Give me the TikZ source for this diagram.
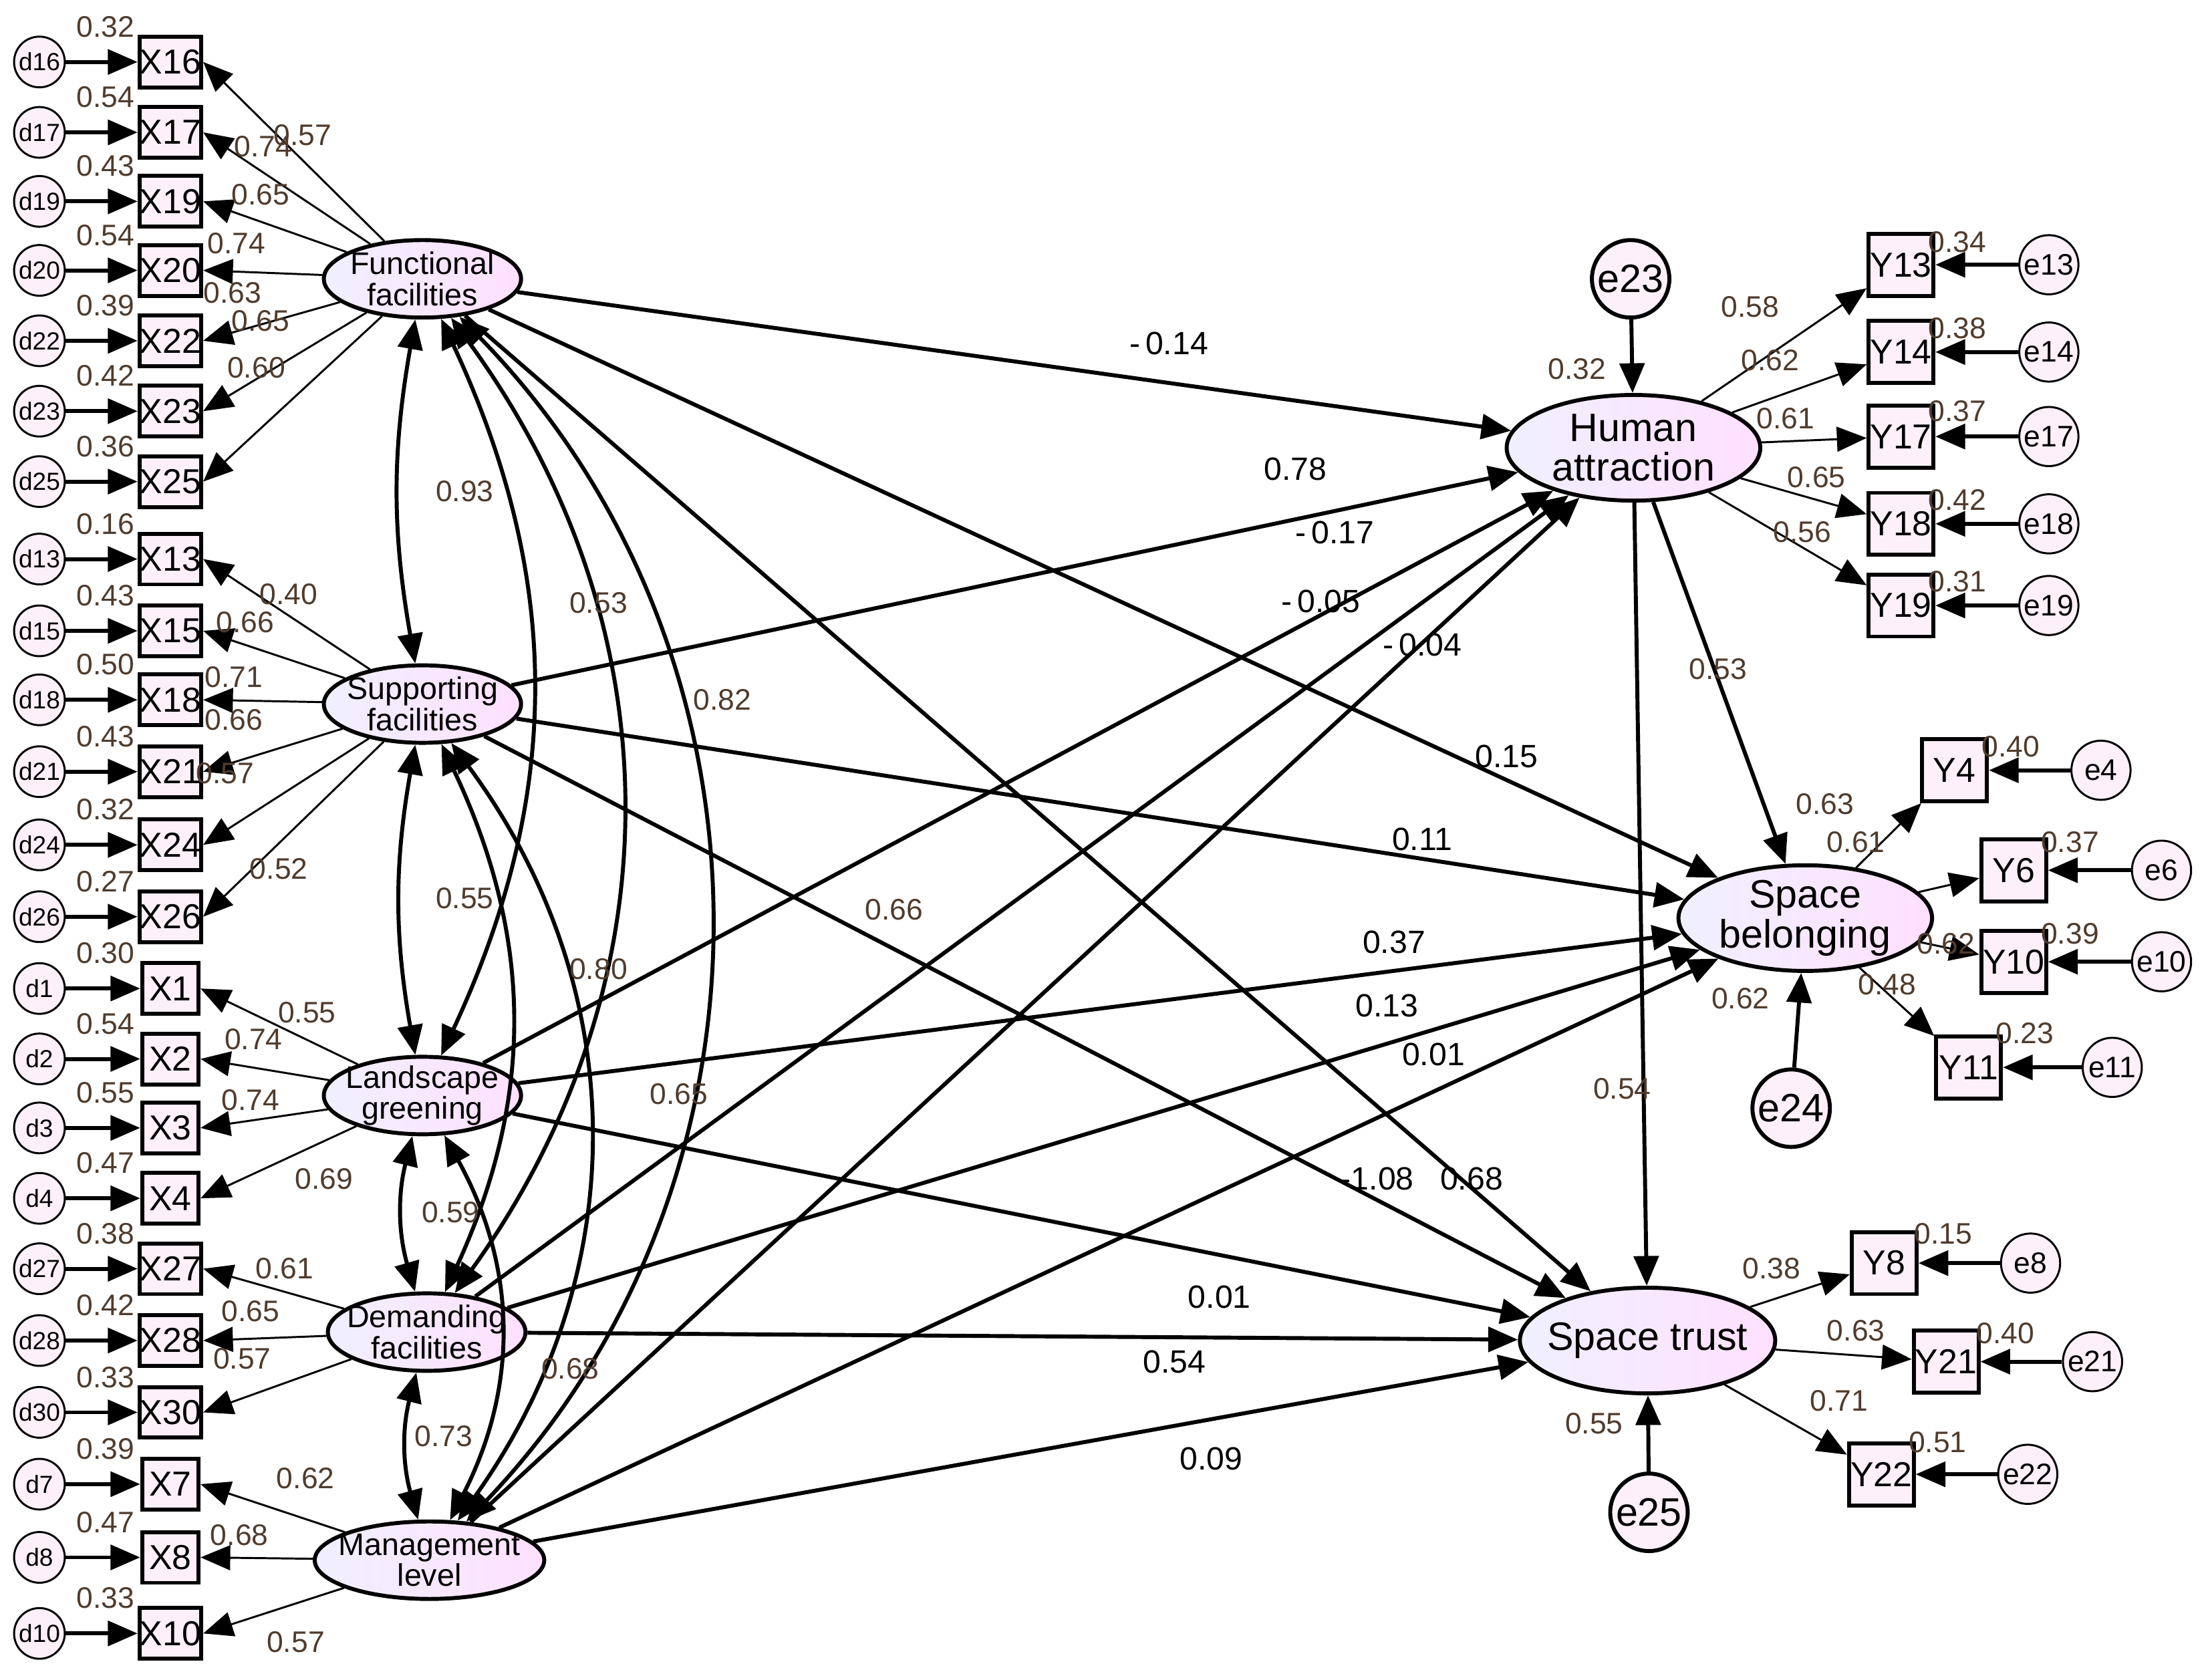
\documentclass[tikz,border=0pt]{standalone}
\usepackage{fontspec}
\setmainfont{Liberation Sans}
\usetikzlibrary{arrows.meta,shapes.geometric}
\definecolor{numc}{RGB}{80,60,45}
\tikzset{
  lat/.style={ellipse,draw,thick,left color=blue!6,right color=magenta!12,inner sep=-2pt,font=\fontsize{6.3}{6.3}\selectfont,align=center},
  obs/.style={rectangle,draw,thick,fill=magenta!6,minimum width=0.4cm,minimum height=0.36cm,inner sep=0pt,font=\fontsize{7}{7}\selectfont},
  err/.style={circle,draw,thin,fill=magenta!6,minimum size=0.36cm,inner sep=0pt,font=\fontsize{5}{5}\selectfont},
  bigerr/.style={circle,draw,thick,fill=magenta!6,minimum size=0.55cm,inner sep=0pt,font=\fontsize{8}{8}\selectfont},
  num/.style={text=numc,font=\fontsize{6}{6}\selectfont,inner sep=0pt},
  path/.style={->,thick},
  cov/.style={<->,thick},
  >={Triangle[length=6pt,width=5pt]}
}
\begin{document}
\begin{tikzpicture}[x=0.01cm,y=-0.01cm]
\useasboundingbox (0,0) rectangle (1568,1193);
% latent variables
\node[lat,minimum width=1.4cm,minimum height=0.55cm] (FF) at (300,198) {Functional\\facilities};
\node[lat,minimum width=1.4cm,minimum height=0.55cm] (SF) at (300,500) {Supporting\\facilities};
\node[lat,minimum width=1.4cm,minimum height=0.55cm] (LG) at (300,778) {Landscape\\greening};
\node[lat,minimum width=1.4cm,minimum height=0.55cm] (DF) at (303,946) {Demanding\\facilities};
\node[lat,minimum width=1.4cm,minimum height=0.55cm] (ML) at (305,1108) {Management\\level};
\node[lat,minimum width=1.8cm,minimum height=0.75cm,font=\fontsize{8}{8}\selectfont] (HA) at (1160,318) {Human\\attraction};
\node[lat,minimum width=1.8cm,minimum height=0.75cm,font=\fontsize{8}{8}\selectfont] (SB) at (1282,652) {Space\\belonging};
\node[lat,minimum width=1.8cm,minimum height=0.75cm,font=\fontsize{8}{8}\selectfont] (ST) at (1170,952) {Space trust};
\node[bigerr] (e23) at (1158,198) {e23};
\node[bigerr] (e24) at (1272,787) {e24};
\node[bigerr] (e25) at (1171,1074) {e25};
\draw[path] (e23) -- (HA);
\draw[path] (e24) -- (SB);
\draw[path] (e25) -- (ST);
\node[num] at (1120,262) {0.32};
\node[num] at (1236,709) {0.62};
\node[num] at (1132,1011) {0.55};
% left indicators
\foreach \n/\y/\v in {16/44/0.32,17/94/0.54,19/143/0.43,20/192/0.54,22/242/0.39,23/292/0.42,25/342/0.36,
  13/397/0.16,15/448/0.43,18/497/0.50,21/548/0.43,24/600/0.32,26/651/0.27,
  1/702/0.30,2/752/0.54,3/801/0.55,4/851/0.47,27/901/0.38,28/952/0.42,30/1003/0.33,
  7/1054/0.39,8/1106/0.47,10/1160/0.33}{
  \node[obs] (X\n) at (121,\y) {X\n};
  \node[err] (d\n) at (28,\y) {d\n};
  \draw[path] (d\n) -- (X\n);
  \node[num] at (75,\y-25) {\v};
}
% loadings
\foreach \f/\n/\l/\lx/\ly in {FF/16/0.57/215/96,FF/17/0.74/187/104,FF/19/0.65/185/138,FF/20/0.74/168/173,FF/22/0.63/165/208,FF/23/0.65/185/228,FF/25/0.60/182/261,
  SF/13/0.40/205/422,SF/15/0.66/174/442,SF/18/0.71/166/481,SF/21/0.66/166/511,SF/24/0.57/160/549,SF/26/0.52/198/617,
  LG/1/0.55/218/719,LG/2/0.74/180/738,LG/3/0.74/178/781,LG/4/0.69/230/837,
  DF/27/0.61/202/901,DF/28/0.65/178/931,DF/30/0.57/172/965,
  ML/7/0.62/217/1050,ML/8/0.68/170/1090,ML/10/0.57/210/1166}{
  \draw[path,thin] (\f) -- (X\n.east);
  \node[num] at (\lx,\ly) {\l};
}
% right indicators
\foreach \f/\n/\x/\y/\ex/\l/\lx/\ly/\v/\vx/\vy in {HA/13/1350/188/1455/0.58/1243/218/0.34/1390/172,
  HA/14/1350/250/1455/0.62/1257/256/0.38/1390/233,
  HA/17/1350/310/1455/0.61/1268/297/0.37/1390/292,
  HA/18/1350/372/1455/0.65/1290/339/0.42/1390/355,
  HA/19/1350/430/1455/0.56/1280/378/0.31/1390/413,
  SB/4/1388/547/1492/0.63/1296/571/0.40/1428/530,
  SB/6/1430/618/1535/0.61/1318/598/0.37/1470/598,
  SB/10/1430/683/1535/0.62/1382/670/0.39/1470/663,
  SB/11/1398/758/1500/0.48/1340/699/0.23/1438/734,
  ST/8/1338/897/1442/0.38/1258/901/0.15/1380/876,
  ST/21/1382/967/1486/0.63/1318/945/0.40/1424/947,
  ST/22/1336/1047/1440/0.71/1306/995/0.51/1376/1024}{
  \node[obs,minimum width=0.46cm,minimum height=0.44cm] (Y\n) at (\x,\y) {Y\n};
  \node[err,minimum size=0.42cm,font=\fontsize{6}{6}\selectfont] (e\n) at (\ex,\y) {e\n};
  \draw[path] (e\n) -- (Y\n);
  \draw[path,thin] (\f) -- (Y\n);
  \node[num] at (\lx,\ly) {\l};
  \node[num] at (\vx,\vy) {\v};
}
% structural paths
\foreach \f/\t/\l/\lx/\ly in {FF/HA/-\,0.14/830/244,SF/HA/0.78/920/333,LG/HA/-\,0.17/948/378,DF/HA/-\,0.05/938/427,ML/HA/-\,0.04/1010/458,
  FF/SB/0.15/1070/537,SF/SB/0.11/1010/596,LG/SB/0.37/990/669,DF/SB/0.13/985/714,ML/SB/0.01/1018/749,
  FF/ST/0.68/1045/837,SF/ST/-1.08/978/837,LG/ST/0.01/866/921,DF/ST/0.54/834/967,ML/ST/0.09/860/1036}{
  \draw[path] (\f) -- (\t);
  \node[font=\fontsize{6.5}{6.5}\selectfont,inner sep=0pt] at (\lx,\ly) {\l};
}
\draw[path] (HA) -- (SB);
\draw[path] (HA) -- (ST);
\node[num] at (1220,475) {0.53};
\node[num] at (1152,773) {0.54};
% covariances
\draw[cov] (FF) to[bend right=10] (SF);
\draw[cov] (FF) to[bend left=25] (LG);
\draw[cov] (FF) to[bend left=36] (DF);
\draw[cov] (FF) to[bend left=44] (ML);
\draw[cov] (SF) to[bend right=10] (LG);
\draw[cov] (SF) to[bend left=25] (DF);
\draw[cov] (SF) to[bend left=36] (ML);
\draw[cov] (LG) to[bend right=15] (DF);
\draw[cov] (LG) to[bend left=28] (ML);
\draw[cov] (DF) to[bend right=15] (ML);
\node[num] at (330,349) {0.93};
\node[num] at (425,428) {0.53};
\node[num] at (513,497) {0.82};
\node[num] at (635,646) {0.66};
\node[num] at (330,638) {0.55};
\node[num] at (425,688) {0.80};
\node[num] at (482,777) {0.65};
\node[num] at (320,861) {0.59};
\node[num] at (405,972) {0.68};
\node[num] at (315,1020) {0.73};
\end{tikzpicture}
\end{document}
